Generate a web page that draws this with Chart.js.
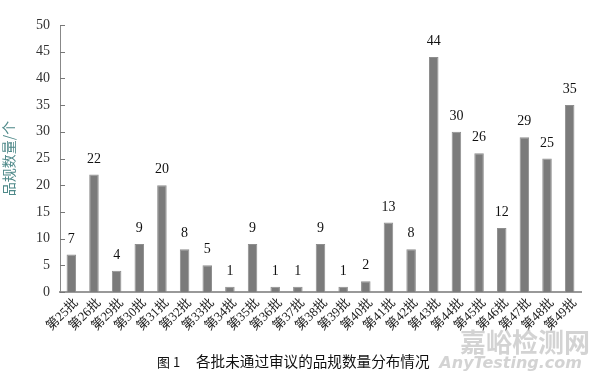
<!DOCTYPE html>
<html>
<head>
<meta charset="utf-8">
<script src="https://cdn.jsdelivr.net/npm/chart.js@4.4.0/dist/chart.umd.min.js"></script>
<style>
  html, body { margin: 0; padding: 0; background: #fff; }
  #wrap { width: 600px; height: 379px; }
</style>
</head>
<body>
<div id="wrap"><canvas id="myChart"></canvas></div>
<script>
var batches = ["第25批", "第26批", "第29批", "第30批", "第31批", "第32批", "第33批", "第34批",
  "第35批", "第36批", "第37批", "第38批", "第39批", "第40批", "第41批", "第42批",
  "第43批", "第44批", "第45批", "第46批", "第47批", "第48批", "第49批"];
var counts = [7, 22, 4, 9, 20, 8, 5, 1, 9, 1, 1, 9, 1, 2, 13, 8, 44, 30, 26, 12, 29, 25, 35];
var yTitle = "品规数量/个";
var figNo = "图 1";
var caption = "各批未通过审议的品规数量分布情况";

var serif = "'Liberation Serif', 'Noto Sans CJK SC', serif";
var cjk = "'Noto Sans CJK SC', sans-serif";

var extras = {
  id: "extras",
  afterDatasetsDraw: function (chart) {
    var c = chart.ctx;
    var meta = chart.getDatasetMeta(0);
    var x = chart.scales.x, y = chart.scales.y;
    c.save();
    // numbers above bars
    c.font = "14px " + serif;
    c.fillStyle = "#111";
    c.textAlign = "center";
    c.textBaseline = "alphabetic";
    meta.data.forEach(function (bar, i) {
      c.fillText(counts[i], bar.x, bar.y - 12);
    });
    // small ticks pointing inward
    c.strokeStyle = "#777";
    c.lineWidth = 1;
    y.ticks.forEach(function (t) {
      var py = Math.round(y.getPixelForValue(t.value)) + 0.5;
      c.beginPath();
      c.moveTo(x.left, py);
      c.lineTo(x.left + 5, py);
      c.stroke();
    });
    // slanted category labels
    c.font = "13px " + serif;
    c.fillStyle = "#222";
    c.textAlign = "right";
    c.textBaseline = "middle";
    batches.forEach(function (lab, i) {
      var px = x.getPixelForTick(i);
      c.save();
      c.translate(px + 5, y.bottom + 9);
      c.rotate(-Math.PI / 4);
      c.fillText(lab, 0, 0);
      c.restore();
    });
    c.restore();
  },
  afterDraw: function (chart) {
    var c = chart.ctx;
    c.save();
    c.fillStyle = "rgba(200,200,200,0.8)";
    c.textAlign = "right";
    c.textBaseline = "alphabetic";
    c.font = "bold 26px " + cjk;
    c.fillText("嘉峪检测网", 590, 352);
    c.font = "italic bold 16px 'DejaVu Sans', sans-serif";
    c.fillText("AnyTesting.com", 582, 368);
    c.fillStyle = "#111";
    c.textAlign = "left";
    c.font = "13px " + cjk;
    c.fillText(figNo, 157, 367);
    c.font = "14.6px " + cjk;
    c.fillText(caption, 196, 367);
    c.restore();
  }
};

var ctx = document.getElementById("myChart").getContext("2d");
var chart = new Chart(ctx, {
  type: "bar",
  data: {
    labels: batches,
    datasets: [{
      data: counts,
      backgroundColor: "#7b7b7b",
      borderColor: "#8e8e8e",
      borderWidth: 1,
      categoryPercentage: 1.0,
      barPercentage: 0.42
    }]
  },
  options: {
    responsive: true,
    maintainAspectRatio: false,
    animation: false,
    layout: { padding: { left: 0, right: 19, top: 25, bottom: 87 } },
    plugins: {
      legend: { display: false },
      tooltip: { enabled: false }
    },
    scales: {
      x: {
        grid: { display: false, drawTicks: false },
        border: { color: "#999", width: 2 },
        ticks: { display: false }
      },
      y: {
        min: 0,
        max: 50,
        afterFit: function (scale) { scale.width = 60; },
        grid: { display: false, drawTicks: false },
        border: { color: "#888", width: 1 },
        ticks: {
          stepSize: 5,
          color: "#333",
          font: { family: serif, size: 14 },
          padding: 10
        },
        title: {
          display: true,
          text: yTitle,
          color: "#4f8a8a",
          font: { family: cjk, size: 14 },
          padding: { top: 0, bottom: 2 }
        }
      }
    }
  },
  plugins: [extras]
});
</script>
</body>
</html>
